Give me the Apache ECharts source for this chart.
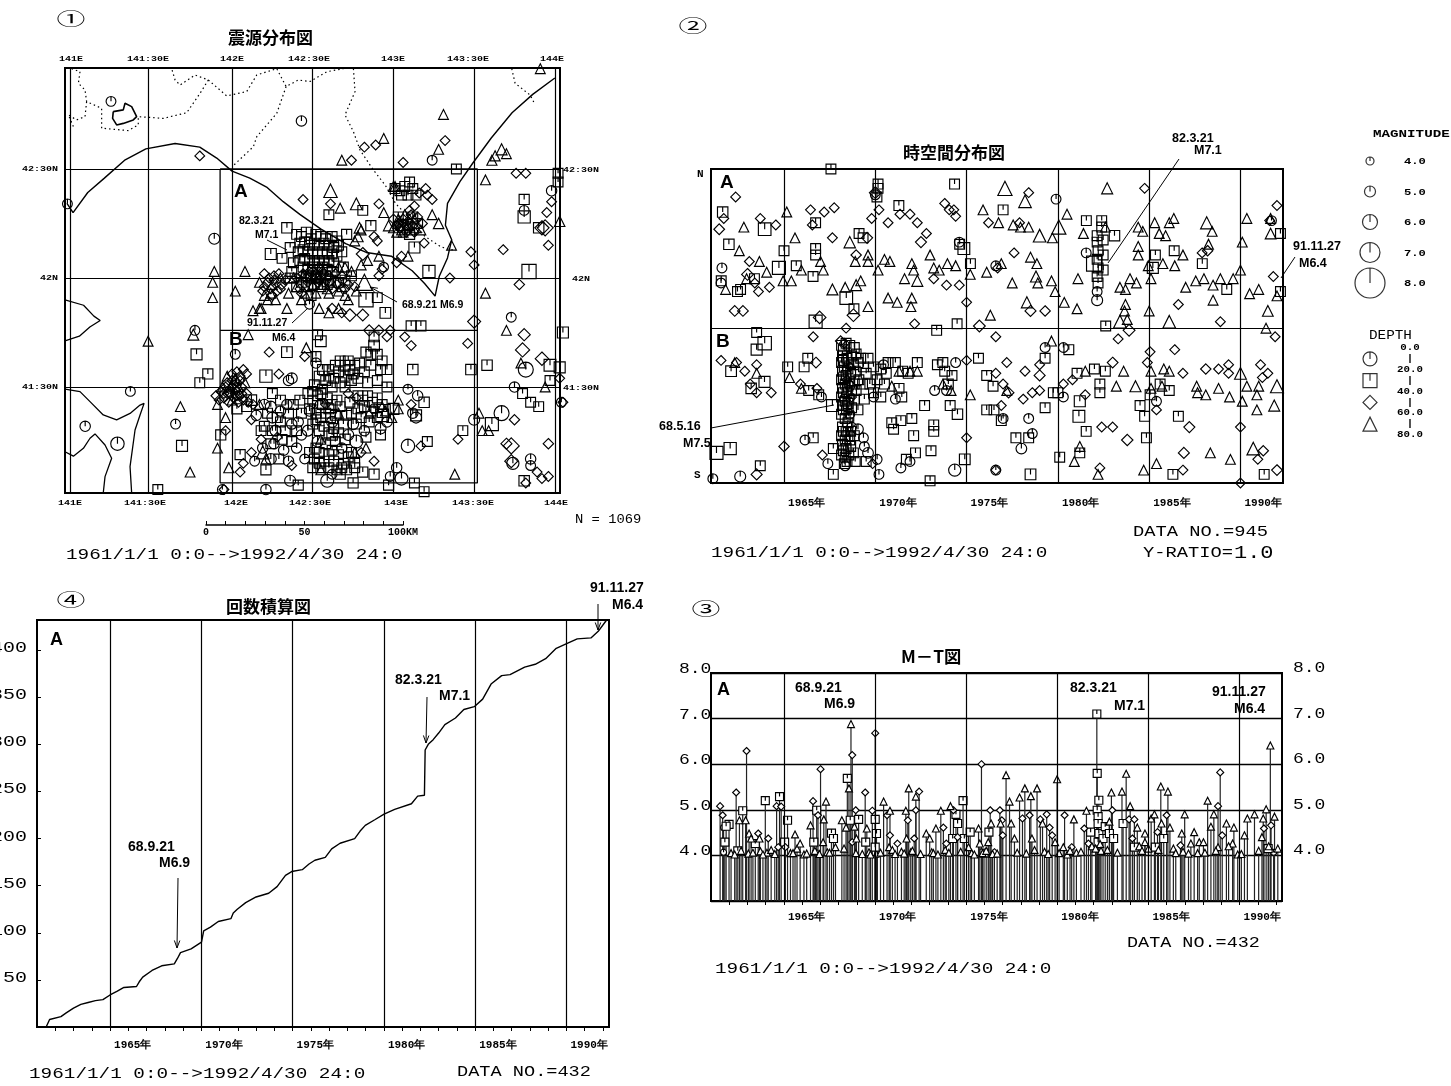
<!DOCTYPE html>
<html><head><meta charset="utf-8">
<style>html,body{margin:0;padding:0;background:#fff}#c{width:1451px;height:1086px}</style>
<script src="https://cdn.jsdelivr.net/npm/echarts@6/dist/echarts.min.js"></script>
</head><body><div id="c"></div>
<script>
// ---------- map: [lon, lat, magnitude?] by depth class ----------
const mapCircle=[[141.25,42.81],[142.43,42.72,4.8],[143.24,42.54,4.6],[141.89,42.18,5],[140.98,42.34],[141.77,41.76],[143.81,42.31],[143.98,42.4,4.8],[143.73,41.82,4.6],[143.82,41.58,6],[143.75,41.5,4.8],[144.04,41.43],[143.67,41.38,6],[143.5,41.35,5],[141.37,41.48],[141.09,41.32,4.8],[141.29,41.24,5.6],[141.65,41.33],[143.09,41.23,5.6],[143.85,41.17,4.8],[143.85,41.14,4.6],[143.74,41.15,5.3],[143.02,41.13,4.8],[143.05,41.08,5.5],[142.59,41.07,5.5],[142.36,41.07,5],[142.21,41.03,4.8],[141.94,41.03],[142.77,41.25,5.5],[142.72,41.28,5],[142.24,41.41,5],[142.37,41.54,5],[142.35,41.53,4.8],[142.02,41.65],[142.52,41.61,4.8],[142.43,41.28,4.8],[142.32,41.21,4.8],[142.35,41.16,4.8],[142.48,41.39,4.8],[142.15,41.37,4.8],[142.25,41.36,5],[142.92,41.31,5],[142.96,41.34,4.8],[142.75,41.33,5],[143.15,41.46,4.8],[143.09,41.49,4.6],[143.12,41.38,4.8],[143.14,41.36,5],[142.94,42.05,4.5],[142.48,41.88],[142.19,41.22,4.8],[142.27,41.3,5],[142.37,41.33,4.8],[142.55,41.42,5],[142.62,41.34,5],[142.68,41.22,4.8],[142.82,41.3,4.8],[142.88,41.4,4.6],[142.53,41.25,5],[142.45,41.17,4.6],[142.62,41.1,4.6],[142.98,41.09,4.6],[142.14,41.16,4.6],[142.2,41.42,4.8],[142.3,41.39,4.8],[142.41,41.34,4.8],[142.26,41.24,4.8],[142.4,41.22,4.8],[142.47,41.3,5],[142.34,41.42,4.8],[142.24,41.17,5]];
const mapSquare=[[143.39,42.5],[144.02,42.48],[144.02,42.44],[143.81,42.36,4.7],[143.81,42.28,5.3],[143.9,42.23,4.8],[143.22,42.03,5.3],[143.84,42.03,5.8],[142.34,42.23,4.8],[142.24,42.11,5],[142.31,42.09],[142.6,42.29],[142.81,42.31],[142.86,42.24,4.7],[142.71,42.2,4.7],[143.13,42.14,5],[142.83,41.9,5.8],[142.95,41.84,4.9],[142.9,41.91],[143.11,41.78,4.7],[143.17,41.78,4.7],[144.05,41.75,5],[142.53,41.74],[142.34,41.66,4.9],[142.55,41.71,4.9],[141.78,41.65,5],[141.85,41.56,4.7],[141.8,41.52],[142.21,41.55,5.3],[143.12,41.58,4.8],[143.48,41.58,4.8],[143.58,41.6,4.8],[143.97,41.6,5.2],[144.03,41.59,5],[143.97,41.53],[143.8,41.47],[143.85,41.43],[143.9,41.41],[143.19,41.43,4.8],[143.61,41.33,5.5],[143.43,41.3],[143.21,41.25],[141.69,41.23,5],[141.93,41.28,4.7],[142.21,41.12,4.7],[143.81,41.07,4.8],[141.54,41.03],[142.41,41.05,4.7],[142.75,41.06,4.7],[142.97,41.05,4.7],[143.13,41.06],[143.19,41.02],[142.81,41.11,4.7],[142.88,41.1,4.7],[142.67,41.1,4.7],[142.83,41.27],[142.92,41.28],[143.14,41.37,5],[142.94,41.39,5.5],[143.0,41.4,5],
// A1 dense
[142.4,42.2],[142.43,42.19],[142.46,42.21],[142.49,42.18],[142.52,42.2],[142.55,42.19],[142.58,42.18],[142.62,42.19],[142.65,42.17],[142.42,42.16],[142.45,42.165],[142.48,42.15],[142.51,42.16],[142.54,42.15],[142.57,42.16],[142.6,42.15],[142.63,42.14],[142.66,42.15],[142.41,42.12],[142.44,42.13],[142.47,42.12],[142.5,42.11],[142.53,42.12],[142.56,42.11],[142.59,42.12],[142.62,42.11],[142.65,42.1],[142.42,42.08],[142.45,42.09],[142.48,42.08],[142.51,42.07],[142.54,42.08],[142.57,42.07],[142.6,42.08],[142.63,42.07],[142.44,42.05],[142.47,42.04],[142.5,42.05],[142.53,42.04],[142.56,42.05],[142.59,42.04],[142.62,42.03],[142.46,42.01],[142.49,42],[142.52,42.01],[142.55,42],[142.58,42.01],[142.61,41.99],[142.43,41.98],[142.47,41.96],[142.51,41.97],[142.55,41.96],[142.59,41.97],[142.66,41.98],[142.7,41.99],[142.36,42.14],[142.37,42.03],[142.49,41.92],[142.38,42.07],[142.36,42],[142.4,41.96],[142.68,42.12],[142.69,42.05],[142.74,42.01],
// NE cluster squares
[143.01,42.41],[143.04,42.4],[143.07,42.42],[143.1,42.44],[143.12,42.41],[143.05,42.38],[143.09,42.38],[143.14,42.38],[143.12,42.28],[143.06,42.24],[143.1,42.2,4.7],[143.15,42.25],[143.03,42.28],
// B top
[142.52,41.64],[142.6,41.58],[142.64,41.6],[142.67,41.62],[142.7,41.6],[142.73,41.58],[142.76,41.6],[142.79,41.61],[142.83,41.66,4.7],[142.88,41.69,4.9],[142.9,41.65],[142.93,41.62],[142.96,41.58],[142.86,41.6],[142.82,41.57],[142.7,41.55],[142.74,41.53],[142.67,41.52],[142.63,41.54],[142.58,41.53],[142.54,41.55],[142.51,41.51],[142.56,41.49],[142.62,41.5],[142.7,41.5],[142.78,41.54],[142.84,41.52],[142.9,41.53],[142.96,41.5],[142.88,41.73],[142.92,41.58],[142.86,41.65],[142.72,41.62],[142.75,41.56],[142.66,41.57],[142.6,41.55],[142.56,41.58],
// B mid
[142.47,41.47],[142.5,41.44],[142.53,41.46],[142.56,41.42],[142.59,41.45],[142.62,41.42],[142.65,41.44],[142.48,41.4],[142.52,41.38],[142.55,41.36],[142.58,41.38],[142.61,41.36],[142.64,41.37],[142.5,41.33],[142.54,41.3],[142.57,41.32],[142.6,41.29],[142.63,41.31],[142.66,41.29],[142.78,41.46],[142.81,41.44],[142.84,41.46],[142.87,41.43],[142.9,41.45],[142.93,41.42],[142.78,41.4],[142.82,41.41],[142.86,41.39],[142.93,41.37,5.4],[142.73,41.43],[142.71,41.37],[142.77,41.33],[142.5,41.48],[142.55,41.47],[142.6,41.4],[142.52,41.35],[142.67,41.41],[142.74,41.38],[142.69,41.33],[142.85,41.34],[142.8,41.36],[142.9,41.36],
// B low
[142.48,41.2],[142.51,41.17],[142.54,41.2],[142.57,41.16],[142.6,41.19],[142.63,41.16],[142.66,41.19],[142.69,41.15],[142.72,41.18],[142.76,41.15],[142.5,41.13],[142.55,41.13],[142.6,41.13],[142.65,41.12],[142.71,41.12],[142.76,41.13],[142.58,41.24],[142.64,41.25],[142.7,41.26,4.8],[142.62,41.28,4.8],[142.54,41.15],[142.62,41.21],[142.68,41.13],[142.74,41.2],[142.52,41.22],
// B left
[142.2,41.32],[142.25,41.3],[142.3,41.34],[142.35,41.38],[142.38,41.42],[142.42,41.44],[142.3,41.44],[142.25,41.47],[142.12,41.44,4.8],[142.09,41.41],[142.03,41.4,4.7],[142.37,41.25],[142.24,41.24],[142.29,41.17],[142.31,41.26],[142.05,41.19,4.7],[142.28,41.36],[142.33,41.3],[142.22,41.38],[142.43,41.38],[142.18,41.3],[142.4,41.3]];
const mapDiamond=[[141.8,42.56],[142.74,42.54],[142.82,42.6],[142.89,42.61],[143.32,42.63],[143.06,42.53],[143.76,42.48],[143.82,42.48],[142.44,42.36],[142.61,42.34],[142.91,42.34],[143.24,42.36],[143.98,42.35],[143.95,42.3],[143.92,42.23,5.8],[143.94,42.23,6.2],[143.68,42.13],[143.96,42.15],[143.48,42.12],[143.5,42.06],[143.35,42],[143.78,41.97,4.8],[142.19,41.94],[142.81,42.11,5.5],[142.88,42.19],[142.9,42.17],[143.19,42.16],[142.81,41.83,5.2],[142.73,41.83,5.4],[143.5,41.8,5.5],[142.85,41.76,5],[142.96,41.73],[143.07,41.73],[143.11,41.69],[143.46,41.7],[143.81,41.74,5.3],[143.8,41.67,5.8],[143.92,41.63,5.6],[142.23,41.66],[142.45,41.64],[142.29,41.56],[143.75,41.35,4.8],[143.4,41.26],[143.17,41.23],[143.96,41.24,4.8],[143.73,41.23,6.2],[143.7,41.24,5],[143.73,41.16,5.5],[143.89,41.11],[143.92,41.08],[143.96,41.09],[143.82,41.06],[142.12,41.35],[142.12,41.2],[142.05,41.11],[142.07,41.15],[142.88,41.16],[141.95,41.03],[144.05,41.43],[144.03,41.54],[141.96,41.3],[142.68,41.84],[142.62,41.86,4.8],[142.98,41.76],[142.91,41.76,4.8],
// A clusters
[142.2,42.02],[142.23,42],[142.26,41.99],[142.29,42.02],[142.31,41.97],[142.2,41.96],[142.24,41.95],[142.28,41.94],[142.33,41.99],[142.44,42.02],[142.48,42.03],[142.52,42.02],[142.56,42.03],[142.6,42.01],[142.64,42.02],[142.68,42.01],[142.72,41.97],[142.76,41.96],[142.47,41.98],[142.53,41.98],[142.57,41.98],[142.42,41.95],[142.62,41.95],[142.93,42.04],[142.91,42.01],[143.02,42.07],[143.05,42.1],[142.22,41.98],[142.26,42.01],[142.3,41.95],[142.25,41.92],[142.5,42],[142.54,41.99],[142.5,42.03],[142.54,42.05],[142.57,42.02],[142.46,42],[142.4,42],[142.43,41.93],[142.65,41.97],[142.7,41.95],
[143,42.27],[143.03,42.25],[143.06,42.27],[143.09,42.26],[143.12,42.24],[143.15,42.28],[143.18,42.25],[143.1,42.31],[143.13,42.33],[143.16,42.39],[143.2,42.41],[143.21,42.38],[143.04,42.23],[143.08,42.21],[143.13,42.21],[143.11,42.29],[143.06,42.25],[143.02,42.24],
// B west dense
[141.9,41.46],[141.93,41.48],[141.96,41.5],[141.99,41.47],[142.02,41.49],[142.05,41.46],[141.92,41.44],[141.95,41.45],[141.98,41.43],[142.01,41.45],[142.04,41.43],[142.07,41.44],[142.1,41.43],[141.97,41.52],[142,41.53],[142.03,41.52],[142.06,41.5],[142.0,41.56],[142.03,41.57],[142.05,41.55],[142.07,41.58],[142.09,41.56],[141.97,41.47],[142.0,41.5],[142.03,41.46],[142.06,41.47],[142.09,41.47],[142.13,41.42],[142.02,41.47],[142.01,41.51],[141.95,41.47],[142.05,41.53],
[142.18,41.26],[142.28,41.27],[142.37,41.14],[142.58,41.42],[142.72,41.47],[142.8,41.2],[142.77,41.45],[143.11,41.42]];
const mapTriangle=[[143.91,42.96],[143.31,42.75],[142.94,42.64],[142.68,42.54,4.6],[143.28,42.59],[143.61,42.54,4.7],[143.63,42.56,4.7],[143.67,42.59,5],[143.7,42.57],[143.57,42.45,4.6],[142.61,42.4,5.6],[142.77,42.34,5.2],[142.67,42.32],[142.94,42.3],[142.79,42.23,4.9],[143.01,42.42],[143.24,42.29],[143.28,42.25,4.8],[143.36,42.15],[143.09,42.1,4.6],[142.91,42.1],[141.89,42.03,4.6],[142.08,42.03,4.6],[141.88,41.98],[141.88,41.91,4.6],[142.02,41.94],[143.57,41.93,4.6],[142.82,41.98,6.2],[142.17,41.86,4.6],[142.13,41.85,4.6],[142.18,41.86,4.6],[142.34,41.86],[142.54,41.86],[142.6,41.84],[142.66,41.86],[143.7,41.76,4.6],[141.48,41.71,4.6],[141.76,41.74,5],[142.1,41.74],[142.46,41.68],[141.68,41.41],[141.74,41.11],[141.91,41.22],[141.96,41.36],[141.98,41.13,4.7],[142.19,41.2,5.5],[142.21,41.17],[142.55,41.12],[142.83,41.22],[143.38,41.1],[143.53,41.38],[143.55,41.3],[143.59,41.3],[143.03,41.4],[142.93,41.41],[143.94,41.5],[143.79,41.61],[144.03,42.26,4.8],[142.78,42.19,4.8],[142.8,42.22],[142.76,42.17],
[142.2,41.92],[142.24,41.93],[142.27,41.9],[142.17,41.98],[142.3,42],[142.35,41.93],[142.38,42],[142.4,41.96],[142.45,41.93],[142.52,41.93],[142.59,41.95],[142.66,41.94],[142.7,41.92],[142.77,41.94],[142.74,42.03],[142.8,42.06],[142.84,42.08],[142.7,42.05],[142.66,42.05],[142.72,41.9],[142.25,41.97],[142.22,41.9],[142.44,42.01],[142.5,41.97],[142.53,42],[142.56,41.97],[142.6,41.93],[142.62,41.98],[142.68,41.96],[142.43,41.9],
[143.0,42.23],[143.02,42.21],[142.97,42.24,4.8],[143.05,42.22],[143.08,42.23],[143.11,42.22],[143.14,42.23],[143.04,42.26],[143.07,42.29],[143.1,42.27],[143.13,42.27],[143.17,42.22],[143,42.42],[143.03,42.27],[143.09,42.24],[143.06,42.21],
[141.94,41.5],[141.97,41.55],[142.0,41.44],[142.04,41.5],[141.91,41.42],[142.08,41.52],[142.17,41.42],[142.95,41.39],[142.99,41.36],[143.03,41.44],[142.76,41.2],[142.66,41.38],[142.55,41.26],[142.85,41.38],[142.02,41.54],[141.99,41.5]];
// ---------- space-time: [year, lat, magnitude?] ----------
const stSquare=[[1967.57,42.5],[1970.15,42.43],[1970.15,42.41],[1970.09,42.37],[1974.34,42.43],[1961.64,42.3,4.8],[1963.94,42.22,5.4],[1961.98,42.15,4.8],[1971.29,42.33],[1977,42.31],[1966.73,42.25],[1969.11,42.2],[1969.33,42.18],[1966.73,42.13],[1966.73,42.1],[1965,42.12],[1965.67,42.05],[1964.72,42.04,5.5],[1966.59,42],[1962.62,41.94],[1962.45,41.93],[1963.38,41.99],[1961.56,41.98],[1974.62,42.15],[1974.85,42.13,5.2],[1975.21,42.06],[1982.4,42.26],[1982.4,42.23],[1983.1,42.19,4.8],[1982.15,42.19],[1982.15,42.16],[1982.2,42.12],[1982.15,42.08],[1982.2,42.04],[1982.15,42],[1982.2,41.97],[1982.48,42.17],[1982.48,42.1],[1982.48,42.03],[1981.98,42.06,6],[1981.56,42.26],[1985.34,42.1],[1985.2,42.04,5],[1986.37,42.12],[1987.91,42.06],[1989.25,41.94],[1992.19,42.2],[1992.19,41.93],[1968.41,41.9,5.4],[1968.83,41.85],[1966.73,41.79,5.5],[1974.48,41.78],[1982.62,41.77],[1973.36,41.75],
[1963.5,41.74],[1963.94,41.69,5.6],[1963.5,41.66,5],[1965.2,41.58],[1966.3,41.62],[1966.1,41.58],[1962.1,41.56,4.9],[1963.93,41.51,5],[1963.2,41.48,4.8],[1966.35,41.47],[1966.9,41.45],[1967.65,41.4,5.2],[1966.6,41.25],[1967.7,41.2],[1962.05,41.2,5.3],[1961.3,41.18,5.5],[1963.7,41.12],[1968.9,41.14],[1967.7,41.08],
[1968.15,41.68],[1968.25,41.66],[1968.4,41.69],[1968.6,41.68],[1968.85,41.67],[1968.2,41.63],[1968.45,41.62],[1968.7,41.63],[1968.95,41.64],[1968.15,41.6],[1968.3,41.58],[1968.55,41.6],[1968.8,41.59],[1969.05,41.6],[1968.2,41.56],[1968.4,41.54],[1968.65,41.55],[1968.9,41.56],[1968.15,41.52],[1968.35,41.5],[1968.6,41.51],[1968.85,41.5],[1969.1,41.52],[1968.2,41.48],[1968.45,41.46],[1968.7,41.47],[1968.95,41.47],[1968.15,41.44],[1968.35,41.42],[1968.55,41.43],[1968.85,41.43],[1968.2,41.4],[1968.42,41.38],[1968.7,41.39],[1969.05,41.38],[1968.15,41.36],[1968.35,41.34],[1968.55,41.35],[1968.2,41.3],[1968.4,41.28],[1968.65,41.28],[1968.15,41.26],[1968.35,41.24],[1968.6,41.24],[1968.85,41.26],[1968.2,41.22],[1968.4,41.2],[1968.65,41.21],[1968.15,41.17],[1968.35,41.16],[1968.55,41.17],[1968.8,41.18],[1968.3,41.13],[1968.25,41.61],[1968.5,41.57],[1968.25,41.53],[1968.5,41.49],[1968.25,41.46],[1968.5,41.41],[1968.25,41.38],[1968.5,41.32],[1968.25,41.28],[1968.5,41.26],[1968.25,41.19],[1968.45,41.14],
[1969.6,41.62],[1969.9,41.58],[1970.3,41.57],[1970.7,41.6],[1971.1,41.6],[1971.5,41.56],[1972.3,41.6],[1973.4,41.59],[1973.8,41.56],[1974.2,41.54],[1969.5,41.55],[1970.1,41.52],[1970.5,41.5],[1971.3,41.48],[1971.45,41.44],[1969.9,41.46],[1969.4,41.43],[1972.7,41.4],[1974.1,41.4],[1974.5,41.36,4.8],[1970.9,41.32],[1971.4,41.33],[1972,41.34],[1973.2,41.31],[1973.2,41.28],[1971,41.29],[1972.1,41.26],[1973.05,41.19],[1971.7,41.15],[1972.2,41.18],[1974.9,41.15,4.9],[1973,41.05],[1969.5,41.14],[1969.3,41.5],[1969.7,41.5],[1970.6,41.55],[1969.2,41.62],[1969.35,41.58],[1971.8,41.55],[1973.7,41.6],[1974,41.5],[1970.3,41.44],
[1975.65,41.62],[1976.1,41.54],[1976.45,41.49],[1976.1,41.38],[1976.5,41.38],[1976.9,41.33],[1977.7,41.25],[1978.4,41.25],[1978.5,41.08,4.9],[1979.3,41.62],[1979.3,41.39],[1981.2,41.42,5],[1981.15,41.35,5.2],[1981.55,41.28],[1980.6,41.66],[1980.1,41.16],[1981.2,41.18],[1981.05,41.55],[1982,41.57],[1982.6,41.56],[1982.3,41.5],[1982.3,41.46],[1979.75,41.46],[1980,41.46],[1984.5,41.4],[1984.75,41.35],[1984.85,41.25],[1985.6,41.5],[1985.05,41.45],[1986.1,41.47],[1986.6,41.35],[1986.3,41.08],[1991.3,41.08]];
const stCircle=[[1970,42.38],[1961.6,42.04],[1961.55,41.97],[1976.6,42.05],[1981.55,42.11],[1982.15,41.89,5],[1982.15,41.93],[1974.6,42.16],[1979.9,42.36],[1991.7,42.26],[1969.05,41.29,4.9],[1969.35,41.25],[1969.6,41.18,4.9],[1969.4,41.21],[1970.1,41.15],[1971.4,41.11],[1971.9,41.14],[1974.35,41.1,5.3],[1973.25,41.47],[1971.1,41.43],[1970.2,41.08],[1962.6,41.07,5],[1961.1,41.06],[1966.15,41.24],[1978,41.2,4.9],[1978.4,41.34],[1978.6,41.27],[1977,41.34],[1967.4,41.13],[1980.3,41.44],[1985.4,41.42],[1976.6,41.1],[1970.45,41.59],[1980.3,41.67],[1974.4,41.6],[1967.05,41.44],[1969.9,41.44],[1973.9,41.47],[1979.3,41.67],[1968.3,41.43],[1968.6,41.36],[1968.7,41.3],[1968.35,41.12],[1968.6,41.49]];
const stDiamond=[[1962.35,42.37],[1961.7,42.27],[1961.45,42.22,4.9],[1963.7,42.27],[1964.55,42.24],[1966.45,42.31],[1967.2,42.3],[1967.75,42.32],[1966.55,42.24],[1967.65,42.18],[1963,42.01,5.2],[1963.4,41.97],[1963.6,41.93],[1964.2,41.95],[1963.1,42.07],[1962.3,41.84,4.9],[1962.75,41.84,4.9],[1966.95,41.81,5.4],[1969.55,42.18,5],[1968.95,42.1,4.8],[1968.8,41.82,5.4],[1970,42.39,5.2],[1969.8,42.27],[1970.2,42.31],[1970.7,42.25],[1971.35,42.29],[1971.9,42.29],[1972.3,42.25],[1972.8,42.2],[1972.5,42.16,5],[1973.8,42.34],[1974.05,42.31],[1974.4,42.28],[1974.3,42.31],[1973.2,41.99],[1973.9,41.96],[1974.6,41.96],[1975,41.88],[1976.2,42.25],[1977.9,42.25],[1978.4,42.39],[1977.6,42.11],[1978.5,41.84,5],[1979.3,41.84,4.8],[1976.7,42.04],[1975.7,41.77,5.2],[1972.15,41.78],[1984.75,42.41],[1992.0,42.33],[1987.9,42.11],[1988.2,42.12,4.8],[1986.6,41.87],[1988.9,41.79],[1991.6,42.26],[1983.9,41.75,5.2],[1991.8,42.0],[1968.4,41.76],[1968.1,41.7,4.8],
[1961.55,41.61],[1962.4,41.6],[1962.85,41.56],[1963.15,41.5],[1963.5,41.46],[1963.5,41.59],[1964.3,41.46],[1966.75,41.6,4.9],[1965.9,41.5],[1966.8,41.48],[1966.6,41.72],[1968.3,41.69],[1965,41.21,4.8],[1967.1,41.17],[1963.5,41.08,5],[1976.6,41.72],[1977.2,41.6],[1975,41.61],[1975,41.25],[1969.85,41.13],[1976.6,41.55],[1977,41.5],[1977.3,41.46,4.9],[1978.1,41.43],[1979,41.54,5],[1979,41.59],[1978.2,41.56],[1978.6,41.46],[1976.9,41.4],[1979,41.47],[1980.3,41.5],[1980.8,41.52],[1981.5,41.45],[1983,41.6,4.9],[1983.3,41.71],[1982.4,41.3],[1983,41.3],[1983.8,41.24,5.1],[1985.05,41.65],[1986.4,41.66],[1984.9,41.6],[1985.4,41.38],[1987.2,41.3,5],[1986.9,41.18,5],[1986.85,41.1],[1986.85,41.55],[1988.1,41.57,4.8],[1988.8,41.57],[1989.35,41.59],[1989.35,41.55],[1990,41.3],[1990,41.04],[1991.1,41.59],[1991.5,41.55],[1991.2,41.53],[1991.9,41.72],[1982.3,41.11],[1976.6,41.1],[1992.0,41.1,4.9],[1990.95,41.15],[1991.25,41.19,4.8],[1968.45,41.52],[1968.7,41.44],[1968.6,41.58]];
const stTriangle=[[1965.15,42.3],[1962.8,42.23],[1962.55,42.12],[1963.65,42.07],[1964.05,42.02],[1962.95,41.99],[1961.8,41.94],[1964.95,41.98],[1965.4,41.98],[1967.65,41.94,5],[1965.6,42.18],[1965.95,42.03],[1967.0,42.07],[1967.15,42.03],[1968.6,42.16,5.1],[1968.9,42.07],[1969.6,42.1],[1969.6,42.07],[1968.95,41.96,5],[1969.2,41.98],[1968.35,41.95],[1969.6,41.86],[1970.5,42.08],[1970.8,42.07],[1970.15,42.03],[1971.6,41.99],[1972,42.06],[1972.3,41.98,5],[1972.1,42.03],[1970.7,41.9],[1971.2,41.88],[1972,41.9],[1971.95,41.86],[1973,42.1],[1973.2,42.04],[1973.5,42.03],[1973.95,42.06],[1974.4,42.05],[1975.2,42.01],[1976.1,42.02],[1975.9,42.31],[1976.75,42.25],[1977.1,42.41,5.8],[1977.55,42.24],[1977.95,42.23],[1978.4,42.23],[1978.2,42.35,5.4],[1979,42.19,5.4],[1979.7,42.18],[1980.05,42.23,5.8],[1980.5,42.29],[1978.5,42.09],[1978.85,42.06],[1978.8,42,5],[1979.65,41.98],[1978.9,41.97],[1977.5,41.97],[1976.9,42.06],[1978.3,41.88,5],[1979.85,41.93],[1980.35,41.88],[1981.05,41.85],[1976.3,41.82],[1982.7,42.41,5],[1982.6,42.23],[1981.4,42.2],[1981.1,41.99],[1984.4,42.23],[1984.65,42.21],[1984.4,42.14],[1984.4,42.1],[1984.95,42.05],[1984.3,41.97],[1983.95,41.99],[1983.4,41.95],[1983.7,41.94],[1985.1,41.99],[1985.3,42.25],[1986.1,42.25],[1986.35,42.27],[1985.9,42.19],[1985.55,42.2],[1985.75,42.06],[1986.4,42.05],[1985,41.84],[1986.1,41.79,5.4],[1983.7,41.87],[1983.65,41.84],[1983.4,41.79,5.5],[1983.8,41.8],[1988.15,42.25,5.3],[1988.45,42.21],[1988.25,42.15],[1986.85,42.1],[1987,41.95],[1987.55,41.98],[1988,41.99],[1988.5,41.96],[1988.9,41.99],[1989.6,41.99],[1988.5,41.89],[1990.1,42.16],[1990.35,42.27],[1991.65,42.27],[1991.65,42.2,4.9],[1990.0,42.03],[1990.5,41.92],[1991,41.94],[1991.5,41.84,4.9],[1991.4,41.76],[1992,41.91],
[1962.3,41.6],[1963.5,41.55],[1965.3,41.53],[1965.95,41.48],[1970.9,41.49],[1971.3,41.56],[1971.9,41.56],[1972.3,41.56],[1973.7,41.5],[1974.15,41.47],[1975.2,41.45],[1977.2,41.47],[1979.65,41.7],[1981.5,41.56],[1983.2,41.49],[1983.6,41.56],[1984.25,41.49,5],[1985.1,41.56],[1985.8,41.57],[1986.1,41.56],[1985.1,41.48],[1985.7,41.49],[1987.6,41.49],[1987.65,41.46],[1988.1,41.45],[1988.8,41.48],[1989.4,41.44],[1990,41.55,5.2],[1990.35,41.49],[1991,41.49],[1992,41.49,5.5],[1991.85,41.4,5],[1990.9,41.45],[1990.9,41.38],[1990.1,41.42],[1981.2,41.21],[1980.9,41.14],[1982.2,41.08],[1984.7,41.1],[1985.4,41.13],[1988.35,41.18],[1989.45,41.15],[1990.7,41.2,5.4]];
// ---------- M-T: [year, magnitude] ----------
const mtDiamond=[[1961.5,5.08],[1961.64,4.88],[1962.38,5.38],[1962.95,6.29],[1963.59,4.48],[1964.14,4.37],[1964.6,5.08],[1964.85,5.07],[1964.69,4.18],[1965.08,4.18],[1966.6,5.19],[1966.87,4.88],[1967.01,5.89],[1968.75,6.2],[1968.75,4.29],[1968.94,4.99],[1969.46,5.38],[1969.85,4.98],[1970.01,6.68],[1970.66,4.88],[1970.82,4.44],[1971.23,4.26],[1971.8,4.77],[1972.42,5.4],[1972.24,4.99],[1972.15,4.37],[1973.75,4.61],[1973.91,4.26],[1974.3,4.99],[1974.53,4.4],[1975.84,6],[1976.32,4.99],[1976.55,4.07],[1976.85,4.99],[1976.96,4.77],[1977.01,4.44],[1978.09,4.81],[1978.48,4.88],[1979.07,4.79],[1979.42,4.9],[1979.58,4.61],[1979.72,4.44],[1980.4,4.88],[1980.79,4.18],[1981.48,4.59],[1981.71,4.26],[1983.02,4.99],[1983.94,4.79],[1984.23,4.79],[1984.12,4.37],[1985.5,4.51],[1986,4.88],[1986.76,4.22],[1988.82,5.08],[1988.94,5.82],[1989.05,4.44],[1991.34,4.59],[1991.73,4.66]];
const mtTriangle=[[1962.56,4.77],[1962.9,4.77],[1963.09,4.48],[1963.2,4.37],[1963.66,4.37],[1963.71,4.09],[1964.07,4.06],[1965.36,4.05],[1965.61,4.46],[1965.72,4.15],[1965.89,4.26],[1966.46,4.66],[1967.19,4.79],[1967.31,5.18],[1967.15,4.29],[1967.38,4.07],[1967.83,4.18],[1968.18,4.77],[1968.41,4.61],[1968.57,5.47],[1968.68,6.88],[1968.87,4.63],[1968.98,4.37],[1969.55,4.59],[1969.67,4.07],[1970.47,5.18],[1970.82,4.98],[1970.77,4.18],[1971.85,5.47],[1971.69,4.98],[1971.73,4.37],[1971.96,4.07],[1972.24,5.29],[1972.81,4.48],[1973,4.37],[1973.11,4.07],[1973.34,4.59],[1973.61,4.98],[1974.14,5.08],[1975.13,4.18],[1975.68,4.59],[1975.75,4.26],[1976.37,4.7],[1976.21,4.29],[1976.89,4.7],[1977.19,5.76],[1977.38,5.18],[1977.47,4.7],[1977.65,4.37],[1977.93,5.27],[1978.22,5.47],[1978.55,5.3],[1978.89,5.47],[1978.61,4.37],[1979.19,4.7],[1979.88,4.29],[1979.99,5.67],[1980.33,4.18],[1980.91,4.79],[1981.6,4.98],[1982.97,5.38],[1982.86,4.74],[1983.55,5.4],[1983.78,5.79],[1984,5.08],[1984.39,4.61],[1984.81,4.48],[1984.81,4.29],[1985.15,4.81],[1985.33,4.9],[1985.68,5.51],[1986.07,5.4],[1985.72,4.7],[1986.18,4.61],[1986.37,4.15],[1986.99,4.9],[1986.83,4.48],[1987.51,4.51],[1987.33,4.26],[1987.79,4.29],[1988.02,4.29],[1988.25,5.2],[1988.59,4.9],[1988.43,4.63],[1989.28,4.7],[1988.82,4.18],[1989.69,4.61],[1989.62,4.26],[1990.27,4.44],[1990.43,4.81],[1990.82,4.9],[1991.23,4.4],[1991.3,4.81],[1991.46,5.01],[1991.69,6.41],[1991.92,4.85],
[1962.1,4.05],[1962.3,4.02],[1962.65,4.1],[1963.05,4.04],[1963.3,4.06],[1963.85,4.02],[1964.3,4.12],[1964.5,4.03],[1965.5,4.05],[1966.1,4.02],[1966.25,4.04],[1966.7,4.1],[1966.95,4.03],[1967.5,4.06],[1968.3,4.15],[1968.95,4.05],[1969.3,4.03],[1969.75,4.02],[1970.3,4.06],[1970.95,4.12],[1971.1,4.03],[1971.45,4.08],[1971.6,4.04],[1972.05,4.1],[1972.5,4.03],[1973.2,4.05],[1973.45,4.02],[1973.85,4.12],[1974.05,4.06],[1974.7,4.08],[1975.3,4.05],[1975.45,4.02],[1975.9,4.05],[1976.1,4.1],[1976.45,4.03],[1976.7,4.04],[1977.8,4.06],[1978.3,4.04],[1978.75,4.12],[1979.3,4.08],[1979.5,4.03],[1980.1,4.05],[1980.55,4.02],[1980.7,4.1],[1981.05,4.06],[1981.3,4.08],[1981.9,4.2],[1982.1,4.15],[1982.35,4.25],[1982.4,4.1],[1982.75,4.12],[1983.3,4.06],[1984.5,4.2],[1984.65,4.1],[1985,4.15],[1985.55,4.12],[1986.5,4.05],[1986.9,4.08],[1987.2,4.04],[1987.7,4.05],[1988.1,4.06],[1988.7,4.1],[1989.4,4.2],[1989.9,4.02],[1990.1,4.03],[1991.05,4.1],[1991.6,4.2],[1992.1,4.15]];
const mtSquare=[[1961.76,4.29],[1961.99,4.68],[1961.83,4.64],[1962.47,4.1],[1962.74,4.98],[1963.43,4.26],[1963.98,5.2],[1964.76,5.29],[1965.2,4.77],[1965.04,4.29],[1966.64,4.29],[1966.8,4.99],[1967.61,4.49],[1967.72,4.37],[1968.48,5.69],[1968.64,4.77],[1969.1,4.79],[1969.49,4.29],[1970.01,4.79],[1970.08,4.48],[1970.01,4.18],[1974.44,4.9],[1974.53,4.7],[1974.26,4.37],[1974.83,5.2],[1974.9,4.37],[1975.22,4.51],[1975.98,4.05],[1976.25,4.51],[1982.17,7.1],[1982.19,5.8],[1982.28,5.21],[1982.19,4.99],[1982.24,4.85],[1982.24,4.7],[1982.28,4.48],[1982.24,4.29],[1981.83,4.51],[1982.63,4.63],[1982.51,4.37],[1982.86,4.48],[1983.09,4.37],[1983.61,4.7],[1984.23,4.18],[1985.84,4.37],[1985.38,4.18],[1991.57,4.15]];
const mtCircle=[[1961.69,4.61],[1961.69,4.07],[1966.73,4.07],[1970.13,4.02],[1991.87,4.07]];
// ---------- cumulative count ----------
const cumYears=[1961.5,1961.69,1962.31,1962.6,1963,1963.4,1963.8,1964.2,1964.61,1965,1965.4,1965.76,1966.45,1966.6,1966.79,1967.3,1967.83,1968.52,1968.7,1968.86,1969.44,1970.01,1970.13,1970.5,1970.93,1971.62,1971.75,1971.97,1972.43,1973,1973.69,1974.15,1974.61,1974.95,1975.53,1975.9,1976.22,1976.79,1977.14,1977.6,1978.4,1978.7,1978.98,1979.5,1980.01,1980.59,1981.51,1981.85,1982.22,1982.26,1982.43,1982.7,1983,1983.34,1983.92,1984.38,1984.95,1985.41,1985.87,1986.45,1986.91,1987.71,1988.29,1988.86,1989.44,1990.01,1990.59,1991.34,1991.74,1992.2];
const cumCounts=[0,8,11,15,20,24,26,28,29,34,38,42,43,48,53,60,65,67,73,79,83,90,102,106,112,115,121,125,132,138,142,149,161,165,167,173,177,180,189,195,200,208,214,220,226,231,237,245,246,294,300,305,312,321,328,337,340,348,364,373,374,382,385,391,402,407,412,413,420,432];
// ---------- map outlines [lon, lat] ----------
const coastMain=[[140.977,42.342],[141.015,42.3],[141.106,42.392],[141.209,42.458],[141.338,42.542],[141.466,42.592],[141.647,42.617],[141.8,42.6],[141.905,42.55],[142,42.49],[142.11,42.458],[142.214,42.417],[142.317,42.35],[142.42,42.292],[142.549,42.225],[142.704,42.158],[142.832,42.117],[142.987,42.1],[143.116,42.033],[143.193,41.975],[143.258,41.917],[143.284,42.008],[143.335,42.092],[143.361,42.175],[143.322,42.242],[143.335,42.342],[143.412,42.442],[143.49,42.525],[143.606,42.642],[143.735,42.758],[143.863,42.842],[144,42.917]];
const coastBay=[[140.965,41.9],[141.08,41.875],[141.144,41.825],[141.183,41.805],[141.119,41.775],[141.054,41.733],[140.965,41.712]];
const coastA=[[140.965,41.49],[141.058,41.479],[141.12,41.433],[141.202,41.372],[141.285,41.349],[141.368,41.379],[141.43,41.417],[141.455,41.425],[141.43,41.372],[141.399,41.303],[141.368,41.135],[141.378,41.014]];
const coastB=[[140.965,41.203],[141.017,41.183],[141.079,41.219],[141.12,41.265],[141.151,41.285],[141.213,41.234],[141.254,41.173],[141.213,41.089],[141.202,41.014]];
const lake=[[141.264,42.763],[141.326,42.771],[141.337,42.801],[141.378,42.786],[141.409,42.74],[141.388,42.725],[141.326,42.709],[141.285,42.702],[141.26,42.732],[141.264,42.763]];
const dotA=[[141.006,42.96],[141.058,42.946],[141.048,42.893],[141.089,42.862],[141.099,42.809],[141.192,42.778],[141.192,42.687],[141.264,42.682],[141.357,42.676],[141.419,42.702],[141.419,42.74],[141.574,42.732],[141.719,42.758],[141.802,42.847],[141.853,42.908],[141.771,42.931],[141.678,42.885],[141.647,42.908],[141.626,42.96]];
const dotB=[[141.853,42.908],[141.967,42.835],[142.091,42.855],[142.153,42.931],[142.277,42.96],[142.335,42.878],[142.411,42.908],[142.483,42.901],[142.587,42.946],[142.69,42.96]];
const dotC=[[142.335,42.878],[142.277,42.755],[142.153,42.648],[142.132,42.602],[142,42.51]];
const dotD=[[141.099,42.809],[141.089,42.74],[141.037,42.725],[140.986,42.748],[141.017,42.694]];
const dotE=[[142.752,42.96],[142.762,42.855],[142.7,42.748],[142.752,42.671],[142.793,42.587],[142.876,42.495],[142.95,42.425],[143.013,42.342],[143.142,42.242],[143.193,42.192],[143.296,42.142],[143.387,42.125]];
const dotF=[[143.733,42.96],[143.754,42.893],[143.847,42.839],[143.878,42.794]];
const boxAB=[[141.926,42.5],[143.52,42.5],[143.52,41.06],[141.926,41.06],[141.926,42.5]];
const boxDivider=[[141.926,41.76],[143.52,41.76]];
// ---------- ticks and legends ----------
const lonLines=[141,141.48,142,142.5,143,143.5,144];
const latLines=[42.5,42,41.5];
const yearLines=[1965,1970,1975,1980,1985,1990];
const mtTicks=[8,7,6,5,4];
const cumTicks=[400,350,300,250,200,150,100,50];
const legendMags=[4,5,6,7,8];
const legendDepths=[[10,'circle'],[30,'square'],[50,'diamond'],[70,'triangle']];
const topLonLabels=[['141E',71],['141:30E',148],['142E',232],['142:30E',309],['143E',393],['143:30E',468],['144E',552]];
const botLonLabels=[['141E',70],['141:30E',145],['142E',236],['142:30E',310],['143E',396],['143:30E',473],['144E',556]];
const latLabels=[['42:30N',169],['42N',278],['41:30N',387]];

const MONO='"Liberation Mono","DejaVu Sans Mono",monospace', SANS='"Liberation Sans",Arial,sans-serif', CJK='"Noto Sans CJK JP",sans-serif';
const SYM={circle:'path://M50 0A50 50 0 1 1 49.9 0ZM50 0L50 50',square:'path://M0 0H100V100H0ZM50 0V50',diamond:'diamond',triangle:'triangle'};
const SZ=[8,11,15,20,30];
function sz(m,d){m=m||d||4.6;const i=Math.min(3,Math.max(0,Math.floor(m-4)));return SZ[i]+(SZ[i+1]-SZ[i])*(m-4-i);}
function lineS(grid,data,opt){return Object.assign({type:'line',xAxisIndex:grid,yAxisIndex:grid,data,showSymbol:false,symbol:'none',silent:true,clip:false,z:2,lineStyle:{color:'#000',width:1.3}},opt||{});}
function rules(grid,xs,ys,w){const d=[];(xs||[]).forEach(v=>d.push({xAxis:v}));(ys||[]).forEach(v=>d.push({yAxis:v}));
 return {type:'line',xAxisIndex:grid,yAxisIndex:grid,data:[],silent:true,z:2,markLine:{silent:true,animation:false,symbol:'none',label:{show:false},lineStyle:{color:'#000',width:w||1.2,type:'solid'},data:d}};}
function scat(grid,data,shape,fixed,fill,d){return {type:'scatter',xAxisIndex:grid,yAxisIndex:grid,data,symbol:SYM[shape],clip:false,silent:true,z:4,
 symbolSize:fixed?fixed:(v=>sz(v[2],d)),itemStyle:{color:fill||'rgba(0,0,0,0)',borderColor:'#000',borderWidth:1.15,opacity:1},emphasis:{disabled:true}};}

const g=[];
function T(x,y,s,o){o=o||{};g.push({type:'text',x,y,scaleX:o.sx||1,silent:true,z:20,style:{text:s,fill:'#000',font:(o.w||'normal')+' '+(o.sz||14)+'px '+(o.f||MONO),textAlign:o.a||'left',textVerticalAlign:'middle'}});}
function L(pts,o){g.push({type:'polyline',silent:true,z:20,shape:{points:pts},style:{stroke:'#000',lineWidth:(o&&o.w)||1,fill:null}});}
function arrow(x1,y1,x2,y2){L([[x1,y1],[x2,y2]]);const a=Math.atan2(y2-y1,x2-x1),h=8;L([[x2-h*Math.cos(a-.35),y2-h*Math.sin(a-.35)],[x2,y2],[x2-h*Math.cos(a+.35),y2-h*Math.sin(a+.35)]]);}
const ANN={w:'bold',f:SANS,sz:12.5};
// titles
T(228,38,'震源分布図',{f:CJK,w:'bold',sz:17});T(903,153,'時空間分布図',{f:CJK,w:'bold',sz:17});T(226,607,'回数積算図',{f:CJK,w:'bold',sz:17});
T(901,657,'M－T図',{f:CJK,w:'bold',sz:17,sx:1.02});
T(71,19,'①',{f:CJK,sz:17,sx:1.7,a:'center'});T(693,26,'②',{f:CJK,sz:17,sx:1.7,a:'center'});T(71,600,'④',{f:CJK,sz:17,sx:1.7,a:'center'});T(706,609,'③',{f:CJK,sz:17,sx:1.7,a:'center'});
// map text
topLonLabels.forEach(l=>T(l[1],59,l[0],{sz:8,w:'bold',a:'center',sx:1.25}));
botLonLabels.forEach(l=>T(l[1],503,l[0],{sz:8,w:'bold',a:'center',sx:1.25}));
latLabels.forEach(l=>{T(58,l[1],l[0],{sz:8,w:'bold',a:'right',sx:1.25});T(l[0].length>3?563:572,l[1]+1,l[0],{sz:8,w:'bold',sx:1.25});});
T(234,192,'A',{f:SANS,w:'bold',sz:19});T(229,340,'B',{f:SANS,w:'bold',sz:19});
T(239,221,'82.3.21',{f:SANS,w:'bold',sz:10.5});T(255,235,'M7.1',{f:SANS,w:'bold',sz:10.5});
T(402,305,'68.9.21 M6.9',{f:SANS,w:'bold',sz:10.5});T(247,323,'91.11.27',{f:SANS,w:'bold',sz:10.5});T(272,338,'M6.4',{f:SANS,w:'bold',sz:10.5});
L([[267,240],[287,250]]);arrow(397,302,370,287);L([[292,323],[308,308]]);
T(575,520,'N = 1069',{sz:12,sx:1.15});
const DATE='1961/1/1 0:0-->1992/4/30 24:0';
T(66,555,DATE,{sz:14,sx:1.38});T(711,553,DATE,{sz:14,sx:1.38});T(715,969,DATE,{sz:14,sx:1.38});T(29,1074,DATE,{sz:14,sx:1.38});
T(1133,532,'DATA NO.=945',{sz:15,sx:1.25});T(1143,553,'Y-RATIO=',{sz:15,sx:1.25});T(1234,553,'1.0',{sz:18,sx:1.22});
T(1127,943,'DATA NO.=432',{sz:15,sx:1.23});T(457,1072,'DATA NO.=432',{sz:15,sx:1.24});
// space-time annotations
T(697,174,'N',{sz:11,w:'bold'});T(694,475,'S',{sz:11,w:'bold'});T(720,183,'A',{f:SANS,w:'bold',sz:19});T(716,342,'B',{f:SANS,w:'bold',sz:19});
T(1172,139,'82.3.21',ANN);T(1194,151,'M7.1',ANN);L([[1179,159],[1108,263]]);
T(1293,247,'91.11.27',ANN);T(1299,264,'M6.4',ANN);L([[1295,257],[1281,278]]);
T(659,427,'68.5.16',ANN);T(683,444,'M7.5',ANN);L([[711,428],[834,405]]);
// legend text
T(1373,134,'MAGNITUDE',{sz:10,w:'bold',sx:1.42});
legendMags.forEach(m=>T(1404,161+(m-4)*30.5+1,m.toFixed(1),{sz:9,w:'bold',sx:1.35}));
T(1369,336,'DEPTH',{sz:13,sx:1.1});
[['0.0',348],['|',359],['20.0',370],['|',381],['40.0',392],['|',403],['60.0',413],['|',424],['80.0',435]].forEach(l=>T(1410,l[1],l[0],{sz:9,w:'bold',sx:1.2,a:'center'}));
// M-T text
mtTicks.forEach(v=>{const y=901-(v-3)*45.6-4;T(679,y,v.toFixed(1),{sz:15,sx:1.2});T(1293,y-1,v.toFixed(1),{sz:15,sx:1.2});});
T(717,690,'A',{f:SANS,w:'bold',sz:18});
T(795,688,'68.9.21',{f:SANS,w:'bold',sz:14});T(824,704,'M6.9',{f:SANS,w:'bold',sz:14});
T(1070,688,'82.3.21',{f:SANS,w:'bold',sz:14});T(1114,706,'M7.1',{f:SANS,w:'bold',sz:14});
T(1212,692,'91.11.27',{f:SANS,w:'bold',sz:14});T(1234,709,'M6.4',{f:SANS,w:'bold',sz:14});
// cumulative text
cumTicks.forEach(v=>T(27,1025-v*0.942,String(v),{sz:15,sx:1.33,a:'right'}));
T(50,640,'A',{f:SANS,w:'bold',sz:18});
T(128,847,'68.9.21',{f:SANS,w:'bold',sz:14});T(159,863,'M6.9',{f:SANS,w:'bold',sz:14});arrow(178,878,177,948);
T(395,680,'82.3.21',{f:SANS,w:'bold',sz:14});T(439,696,'M7.1',{f:SANS,w:'bold',sz:14});arrow(427,697,426,743);
T(590,588,'91.11.27',{f:SANS,w:'bold',sz:14});T(612,605,'M6.4',{f:SANS,w:'bold',sz:14});arrow(598,604,598,630);

const yearAxis=(gi,tick,label)=>({type:'value',gridIndex:gi,min:1961,max:1992.33,interval:1,splitLine:{show:false},axisLine:{show:false},
 axisTick:{show:tick,length:4,lineStyle:{color:'#000'}},axisLabel:{show:true,margin:label,color:'#000',fontFamily:MONO,fontWeight:'bold',fontSize:11,align:'left',padding:[0,0,0,4],showMinLabel:false,showMaxLabel:false,formatter:v=>(v%5===0)?v+'年':''}});
const hide=(gi,min,max,inv)=>({type:'value',gridIndex:gi,min,max,inverse:!!inv,show:false,splitLine:{show:false}});

const stems=[].concat(mtDiamond,mtTriangle,mtSquare,mtCircle);
const option={animation:false,backgroundColor:'#fff',
 grid:[
  {left:65,top:68,width:495,height:425,show:true,borderColor:'#000',borderWidth:2,backgroundColor:'transparent'},
  {left:711,top:169,width:572,height:314,show:true,borderColor:'#000',borderWidth:2,backgroundColor:'transparent'},
  {left:711,top:673,width:571,height:228,show:true,borderColor:'#000',borderWidth:2,backgroundColor:'transparent'},
  {left:37,top:620,width:572,height:407,show:true,borderColor:'#000',borderWidth:2,backgroundColor:'transparent'},
  {left:1340,top:161,width:60,height:122},
  {left:1340,top:348,width:60,height:87},
  {left:206,top:524,width:197,height:1}
 ],
 xAxis:[hide(0,140.965,144.032),yearAxis(1,false,15),yearAxis(2,true,11),yearAxis(3,true,13),hide(4,0,2),hide(5,0,2),
  {type:'value',gridIndex:6,min:0,max:100,interval:10,position:'bottom',splitLine:{show:false},axisLine:{show:true,lineStyle:{color:'#000',width:1.5}},axisTick:{show:true,inside:true,length:4,lineStyle:{color:'#000'}},
   axisLabel:{margin:2,color:'#000',fontFamily:MONO,fontWeight:'bold',fontSize:10,formatter:v=>v===0?'0':v===50?'50':v===100?'100KM':''}}],
 yAxis:[hide(0,41.014,42.963),hide(1,41.04,42.5),
  {type:'value',gridIndex:2,min:3,max:8,interval:1,axisLabel:{show:false},axisTick:{show:false},axisLine:{show:false},splitLine:{show:true,lineStyle:{color:'#000',width:1.3}}},
  {type:'value',gridIndex:3,min:0,max:432,interval:50,axisLabel:{show:false},axisLine:{show:false},axisTick:{show:true,inside:true,length:4,lineStyle:{color:'#000'}},splitLine:{show:false}},
  hide(4,4,8,true),hide(5,0,80,true),hide(6,0,1)],
 series:[
  rules(0,lonLines,latLines),
  lineS(0,boxAB),lineS(0,boxDivider),
  lineS(0,coastMain,{lineStyle:{color:'#000',width:1.4}}),lineS(0,coastBay),lineS(0,coastA),lineS(0,coastB),lineS(0,lake,{lineStyle:{color:'#000',width:1.6}}),
  ...[dotA,dotB,dotC,dotD,dotE,dotF].map(d=>lineS(0,d,{lineStyle:{color:'#000',width:1.2,type:[1.5,3]}})),
  scat(0,mapCircle,'circle'),scat(0,mapSquare,'square'),scat(0,mapDiamond,'diamond'),scat(0,mapTriangle,'triangle'),
  rules(1,yearLines,[41.76]),
  scat(1,stCircle,'circle'),scat(1,stSquare,'square'),scat(1,stDiamond,'diamond'),scat(1,stTriangle,'triangle'),
  rules(2,yearLines),
  {type:'bar',xAxisIndex:2,yAxisIndex:2,data:stems,barWidth:1.2,silent:true,z:3,itemStyle:{color:'#222'}},
  scat(2,mtCircle,'circle',6,'#fff'),scat(2,mtSquare,'square',8,'#fff'),scat(2,mtDiamond,'diamond',7,'#fff'),scat(2,mtTriangle,'triangle',7,'#fff'),
  rules(3,yearLines),
  lineS(3,cumYears.map((y,i)=>[y,cumCounts[i]]),{lineStyle:{color:'#000',width:1.4}}),
  {type:'scatter',xAxisIndex:4,yAxisIndex:4,data:legendMags.map(m=>[1,m]),symbol:SYM.circle,symbolSize:v=>sz(v[1]),silent:true,itemStyle:{color:'rgba(0,0,0,0)',borderColor:'#000',borderWidth:1.2}},
  ...legendDepths.map(d=>({type:'scatter',xAxisIndex:5,yAxisIndex:5,data:[[1,d[0]]],symbol:SYM[d[1]],symbolSize:14,silent:true,itemStyle:{color:'rgba(0,0,0,0)',borderColor:'#000',borderWidth:1.2}})),
  {type:'line',xAxisIndex:6,yAxisIndex:6,data:[],silent:true}
 ],
 graphic:{elements:g}
};
const chart=echarts.init(document.getElementById('c'),null,{renderer:'canvas',width:1451,height:1086});
chart.setOption(option);
</script></body></html>
